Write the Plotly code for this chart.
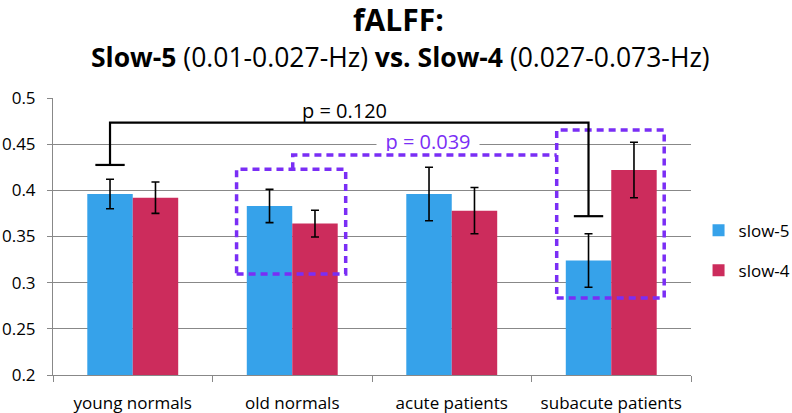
import plotly.graph_objects as go

# ---- data ----
categories = ["young normals", "old normals", "acute patients", "subacute patients"]
slow5 = [0.396, 0.383, 0.396, 0.324]
slow5_err = [0.016, 0.018, 0.029, 0.029]
slow4 = [0.392, 0.364, 0.378, 0.422]
slow4_err = [0.017, 0.0145, 0.025, 0.030]
y_ticks = [0.2, 0.25, 0.3, 0.35, 0.4, 0.45, 0.5]
y_ticktext = ["0.2", "0.25", "0.3", "0.35", "0.4", "0.45", "0.5"]

BLUE = "#36A2EA"
RED = "#CC2C5C"
PURPLE = "#7A2EF5"
GRAY = "#888888"
FONT = "Open Sans"

xpos = list(range(len(categories)))
bargap = 0.43
bw = (1 - bargap) / 2  # width of one bar in category units

fig = go.Figure()
fig.add_trace(go.Bar(
    x=xpos, y=slow5, name="slow-5", marker_color=BLUE, marker_line_width=0,
    error_y=dict(type="data", array=slow5_err, color="black", thickness=1.6, width=4),
    legendgroup="a",
))
fig.add_trace(go.Bar(
    x=xpos, y=slow4, name="slow-4", marker_color=RED, marker_line_width=0,
    error_y=dict(type="data", array=slow4_err, color="black", thickness=1.6, width=4),
    legendgroup="b",
))

shapes = []
# purple dashed boxes around old normals and subacute patients
dash = dict(color=PURPLE, width=3.5, dash="7px,5px")
box1 = (1 - 0.349, 1 + 0.335, 0.3094, 0.4228)
box2 = (3 - 0.342, 3 + 0.332, 0.2834, 0.4653)
for (x0, x1, y0, y1) in (box1, box2):
    shapes.append(dict(type="rect", xref="x", yref="y", x0=x0, x1=x1, y0=y0, y1=y1,
                       line=dash, fillcolor="rgba(0,0,0,0)", layer="above"))
# dashed connector
conn_y = 0.4383
shapes.append(dict(type="path", xref="x", yref="y",
                   path=f"M 1.003 {box1[3]} L 1.003 {conn_y} L {box2[0]} {conn_y}",
                   line=dash, layer="above"))

# black bracket (young normals slow-5 vs subacute slow-5)
bx_l = 0 - bw / 2
bx_r = 3 - bw / 2
br_y = 0.4733
left_end = 0.4275
right_end = 0.372
cap = 0.092
black = dict(color="black", width=2.2)
shapes.append(dict(type="path", xref="x", yref="y",
                   path=f"M {bx_l} {left_end} L {bx_l} {br_y} L {bx_r} {br_y} L {bx_r} {right_end}",
                   line=black, layer="above"))
shapes.append(dict(type="line", xref="x", yref="y", x0=bx_l - cap, x1=bx_l + cap,
                   y0=left_end, y1=left_end, line=black, layer="above"))
shapes.append(dict(type="line", xref="x", yref="y", x0=bx_r - cap, x1=bx_r + cap,
                   y0=right_end, y1=right_end, line=black, layer="above"))

annotations = [
    dict(text="<b>fALFF:</b>", xref="paper", yref="paper", x=0.542, y=1.283,
         showarrow=False, font=dict(size=30, color="black", family=FONT),
         xanchor="center", yanchor="middle"),
    dict(text="<b>Slow-5</b> (0.01-0.027-Hz) <b>vs. Slow-4</b> (0.027-0.073-Hz)",
         xref="paper", yref="paper", x=0.545, y=1.148, showarrow=False,
         font=dict(size=26.5, color="black", family=FONT),
         xanchor="center", yanchor="middle"),
    dict(text="p = 0.120", xref="x", yref="y", x=1.325, y=0.487, showarrow=False,
         font=dict(size=20, color="black", family=FONT), xanchor="center", yanchor="middle"),
    dict(text="p = 0.039", xref="x", yref="y", x=1.85, y=0.4534, showarrow=False,
         font=dict(size=20, color=PURPLE, family=FONT), xanchor="center", yanchor="middle",
         bgcolor="white", width=102, height=20, borderpad=0),
]

fig.update_layout(
    width=792, height=413,
    margin=dict(l=53, r=101, t=98, b=38, autoexpand=False),
    paper_bgcolor="white", plot_bgcolor="white",
    barmode="group", bargap=bargap, bargroupgap=0,
    font=dict(family=FONT, size=17, color="black"),
    shapes=shapes, annotations=annotations,
    showlegend=True,
    legend=dict(xref="container", yref="container", x=0.882, xanchor="left",
                y=0.485, yanchor="top",
                font=dict(size=17, color="black", family=FONT),
                traceorder="grouped", tracegroupgap=15, itemwidth=30,
                bgcolor="rgba(0,0,0,0)"),
    xaxis=dict(range=[-0.5, 3.5], tickmode="array", tickvals=xpos, ticktext=categories,
               automargin=False,
               showgrid=False, zeroline=False, showline=True, linecolor=GRAY, linewidth=1,
               ticks="", ticklabelstandoff=13,
               tickfont=dict(size=17, color="black", family=FONT),
               minor=dict(ticks="outside", ticklen=6, tickcolor=GRAY, tickwidth=1,
                          tick0=-0.5, dtick=1, showgrid=False)),
    yaxis=dict(range=[0.2, 0.5], tickmode="array", tickvals=y_ticks, ticktext=y_ticktext,
               automargin=False,
               showgrid=True, gridcolor=GRAY, gridwidth=1, zeroline=False,
               showline=True, linecolor=GRAY, linewidth=1,
               ticks="outside", ticklen=5, tickcolor=GRAY, ticklabelstandoff=8,
               tickfont=dict(size=17, color="black", family=FONT)),
)

fig.write_html("out.html", config={"displayModeBar": False},
               post_script="document.body.style.margin='0';document.body.style.padding='0';")
